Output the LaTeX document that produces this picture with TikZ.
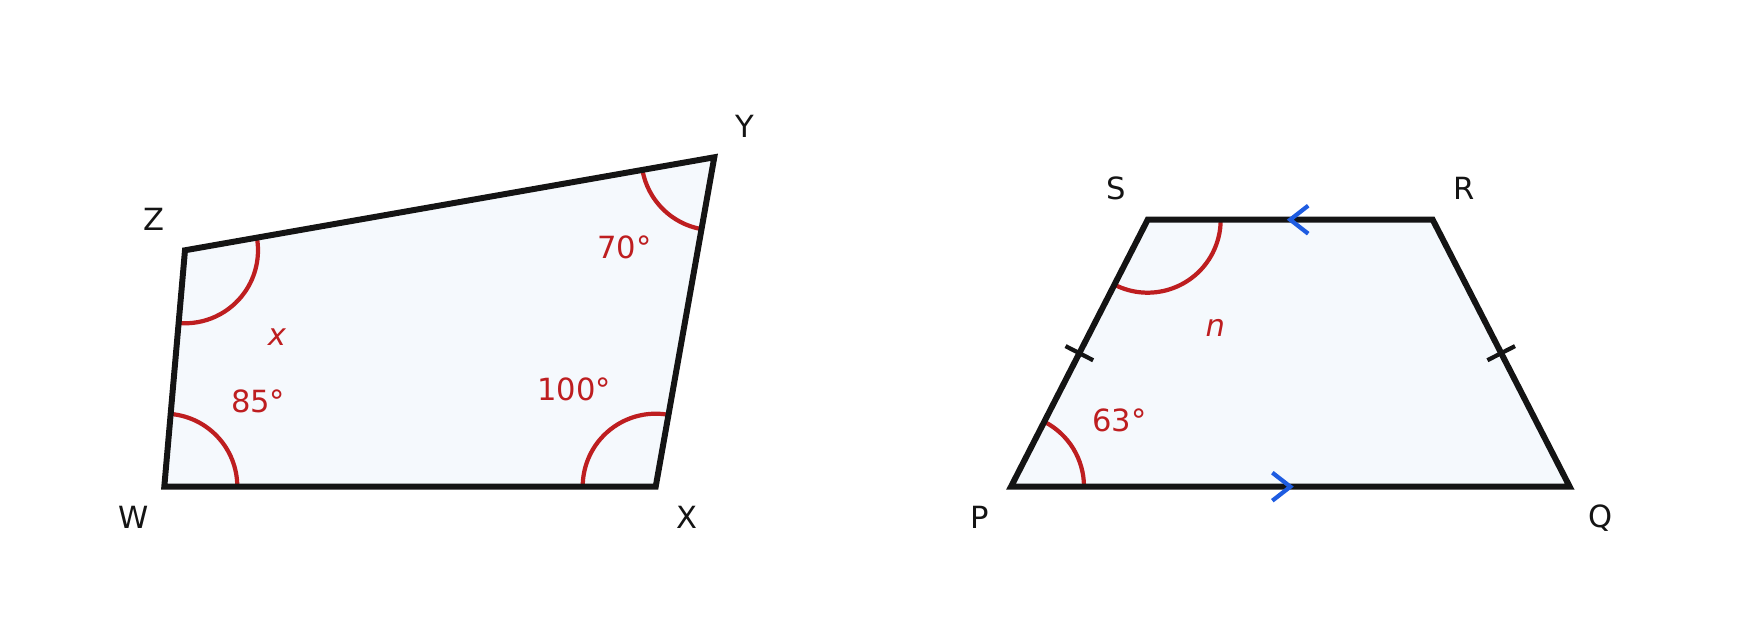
\documentclass[tikz,border=0pt]{standalone}
\usepackage{fontspec}
\setmainfont{DejaVu Sans}
\usetikzlibrary{angles,calc}
\definecolor{arcred}{RGB}{190,30,32}
\definecolor{parblue}{RGB}{30,92,225}
\definecolor{shapefill}{RGB}{245,249,253}
\definecolor{edgeblack}{RGB}{20,20,20}

\begin{document}
\begin{tikzpicture}[
    every node/.style={font=\fontsize{8.7}{10}\selectfont},
    edge/.style={draw=edgeblack, line width=1.7pt},
    anglearc/.style={draw=arcred, line width=1.2pt, angle radius=0.73cm},
    vlabel/.style={text=edgeblack},
    alabel/.style={text=arcred},
    tickmark/.style={draw=edgeblack, line width=1.2pt},
    chevron/.style={draw=parblue, line width=1.2pt}
]
    \useasboundingbox (0,0) rectangle (17.45,6.3);

    % quadrilateral WXYZ
    \coordinate (W) at (1.643,1.433);
    \coordinate (X) at (6.557,1.433);
    \coordinate (Y) at (7.143,4.727);
    \coordinate (Z) at (1.850,3.797);

    \fill[shapefill] (W) -- (X) -- (Y) -- (Z) -- cycle;

    \pic[anglearc] {angle = X--W--Z};
    \pic[anglearc] {angle = Y--X--W};
    \pic[anglearc] {angle = Z--Y--X};
    \pic[anglearc] {angle = W--Z--Y};

    \draw[edge] (W) -- (X) -- (Y) -- (Z) -- cycle;

    \node[vlabel] (lW) at ($(W)+(-0.31,-0.31)$) {W};
    \node[vlabel] (lX) at ($(X)+(0.31,-0.31)$) {X};
    \node[vlabel] (lY) at ($(Y)+(0.31,0.31)$) {Y};
    \node[vlabel] (lZ) at ($(Z)+(-0.31,0.31)$) {Z};

    \node[alabel] (aW) at (2.582,2.282) {85°};
    \node[alabel] (aX) at (5.743,2.405) {100°};
    \node[alabel] (aY) at (6.243,3.829) {70°};
    \node[alabel] (aZ) at (2.771,2.928) {\textit{x}};

    % trapezium PQRS
    \coordinate (P) at (10.110,1.433);
    \coordinate (Q) at (15.697,1.433);
    \coordinate (R) at (14.327,4.103);
    \coordinate (S) at (11.477,4.103);

    \fill[shapefill] (P) -- (Q) -- (R) -- (S) -- cycle;

    \pic[anglearc] {angle = Q--P--S};
    \pic[anglearc] {angle = P--S--R};

    \draw[edge] (P) -- (Q) -- (R) -- (S) -- cycle;

    % equal sides
    \coordinate (mPS) at ($(P)!0.5!(S)$);
    \coordinate (mQR) at ($(Q)!0.5!(R)$);
    \draw[tickmark] ($(mPS)!0.155cm!90:(S)$) -- ($(mPS)!0.155cm!-90:(S)$);
    \draw[tickmark] ($(mQR)!0.155cm!90:(R)$) -- ($(mQR)!0.155cm!-90:(R)$);

    % parallel sides
    \coordinate (mPQ) at ($(P)!0.5!(Q)$);
    \coordinate (mSR) at ($(S)!0.5!(R)$);
    \draw[chevron] ($(mPQ)+(-0.18,0.14)$) -- (mPQ) -- ($(mPQ)+(-0.18,-0.14)$);
    \draw[chevron] ($(mSR)+(0.18,0.14)$) -- (mSR) -- ($(mSR)+(0.18,-0.14)$);

    \node[vlabel] (lP) at ($(P)+(-0.31,-0.31)$) {P};
    \node[vlabel] (lQ) at ($(Q)+(0.31,-0.31)$) {Q};
    \node[vlabel] (lR) at ($(R)+(0.31,0.31)$) {R};
    \node[vlabel] (lS) at ($(S)+(-0.31,0.31)$) {S};

    \node[alabel] (aP) at (11.196,2.093) {63°};
    \node[alabel] (aS) at (12.153,3.017) {\textit{n}};
\end{tikzpicture}
\end{document}
